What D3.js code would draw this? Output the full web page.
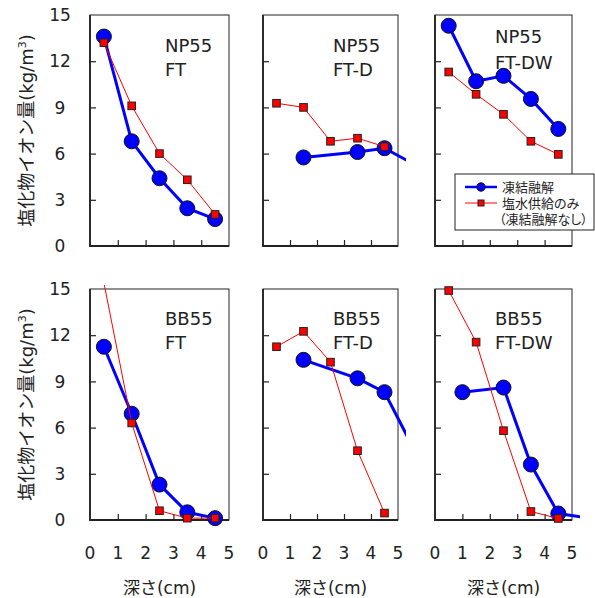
<!DOCTYPE html>
<html>
<head>
<meta charset="utf-8">
<style>
  body { margin: 0; background: #fff; }
  svg text { font-family: "DejaVu Sans", "Noto Sans CJK JP", sans-serif; fill: #222; }
  .axis .domain { display: none; }
  .axis line { stroke: #222; stroke-width: 1.2px; }
  .leg { font-feature-settings: "palt"; }
</style>
</head>
<body>
<svg id="chart" width="595" height="598"></svg>
<script src="https://d3js.org/d3.v7.min.js"></script>
<script>
// panel labels
var mixNames = ["NP55", "NP55", "NP55", "BB55", "BB55", "BB55"];
var caseNames = ["FT", "FT-D", "FT-DW", "FT", "FT-D", "FT-DW"];

// 凍結融解 (blue) series, depth in cm / chloride in kg/m3
var ftDepths = [
  [0.5, 1.5, 2.5, 3.5, 4.5],
  [1.5, 3.5, 4.5, 5.5],
  [0.5, 1.5, 2.5, 3.5, 4.5],
  [0.5, 1.5, 2.5, 3.5, 4.5],
  [1.5, 3.5, 4.5, 5.5],
  [1.0, 2.5, 3.5, 4.5, 5.5]
];
var ftValues = [
  [13.6, 6.8, 4.4, 2.45, 1.75],
  [5.75, 6.1, 6.35, 5.4],
  [14.3, 10.7, 11.05, 9.55, 7.6],
  [11.25, 6.9, 2.3, 0.5, 0.12],
  [10.4, 9.2, 8.3, 4.9],
  [8.3, 8.6, 3.6, 0.42, 0.15]
];

// 塩水供給のみ (red) series
var saltDepths = [
  [0.5, 1.5, 2.5, 3.5, 4.5],
  [0.5, 1.5, 2.5, 3.5, 4.5],
  [0.5, 1.5, 2.5, 3.5, 4.5],
  [0.5, 1.5, 2.5, 3.5, 4.5],
  [0.5, 1.5, 2.5, 3.5, 4.5],
  [0.5, 1.5, 2.5, 3.5, 4.5]
];
var saltValues = [
  [13.2, 9.1, 6.0, 4.3, 2.05],
  [9.27, 9.0, 6.8, 7.0, 6.45],
  [11.3, 9.85, 8.55, 6.8, 5.95],
  [15.4, 6.3, 0.6, 0.12, 0.12],
  [11.25, 12.25, 10.25, 4.5, 0.45],
  [14.9, 11.55, 5.8, 0.55, 0.1]
];

var xTicks = [0, 1, 2, 3, 4, 5];
var yTicks = [0, 3, 6, 9, 12, 15];

var colLeft = [90, 263, 435], colWidth = [139, 135, 137];
var rowTop = [15, 289], rowHeight = [231, 231];

var svg = d3.select("#chart");
var defs = svg.append("defs");

function pairs(ds, vs) { return ds.map(function(d, i){ return [d, vs[i]]; }); }

mixNames.forEach(function(mix, i) {
  var r = Math.floor(i / 3), c = i % 3;
  var left = colLeft[c], w = colWidth[c], top = rowTop[r], h = rowHeight[r];

  var x = d3.scaleLinear().domain([0, 5]).range([left, left + w]);
  var y = d3.scaleLinear().domain([0, 15]).range([top + h, top]);

  defs.append("clipPath").attr("id", "clip" + i)
    .append("rect")
      .attr("x", left).attr("y", top - 4)
      .attr("width", w + 8).attr("height", h + 4);

  var g = svg.append("g");

  // inward ticks
  g.append("g").attr("class", "axis")
      .attr("transform", "translate(0," + (top + h) + ")")
      .call(d3.axisBottom(x).tickValues([1, 2, 3, 4]).tickSizeInner(-6).tickSizeOuter(0).tickFormat(""));
  g.append("g").attr("class", "axis")
      .attr("transform", "translate(" + left + ",0)")
      .call(d3.axisLeft(y).tickValues([3, 6, 9, 12]).tickSizeInner(-6).tickSizeOuter(0).tickFormat(""));

  // frame
  g.append("rect")
      .attr("x", left).attr("y", top).attr("width", w).attr("height", h)
      .attr("fill", "none").attr("stroke", "#222").attr("stroke-width", 1);
  g.append("path")
      .attr("d", "M" + left + "," + top + "V" + (top + h) + "H" + (left + w))
      .attr("fill", "none").attr("stroke", "#222").attr("stroke-width", 1.8);

  if (c === 0) {
    g.selectAll(".ylab").data(yTicks).enter().append("text")
        .attr("x", 60).attr("y", function(d){ return y(d); })
        .attr("dy", "0.36em").attr("text-anchor", "middle")
        .style("font-size", "17px").text(function(d){ return d; });

    var yl = g.append("text")
        .attr("transform", "translate(33," + (top + h / 2) + ") rotate(-90)")
        .attr("text-anchor", "middle").style("font-size", "18px");
    yl.append("tspan").text("塩化物イオン量(kg/m");
    yl.append("tspan").attr("dy", -7).style("font-size", "11px").text("3");
    yl.append("tspan").attr("dy", 7).text(")");
  }
  if (r === 1) {
    g.selectAll(".xlab").data(xTicks).enter().append("text")
        .attr("x", function(d){ return x(d); }).attr("y", top + h + 33)
        .attr("dy", "0.36em").attr("text-anchor", "middle")
        .style("font-size", "17px").text(function(d){ return d; });
    g.append("text")
        .attr("x", left + w / 2).attr("y", 588).attr("dy", "0.36em")
        .attr("text-anchor", "middle").style("font-size", "17px").text("深さ(cm)");
  }

  // panel name
  var lx = c === 0 ? left + 75 : c === 1 ? left + 70 : left + 60;
  var ly = r === 0 ? (c === 2 ? 43 : 52) : 325;
  g.append("text").attr("x", lx).attr("y", ly).style("font-size", "18px").text(mix);
  g.append("text").attr("x", lx).attr("y", ly + (c === 2 && r === 0 ? 26 : 24)).style("font-size", "18px").text(caseNames[i]);

  var line = d3.line().x(function(d){ return x(d[0]); }).y(function(d){ return y(d[1]); });
  var inside = function(d){ return d[0] <= 5 && d[1] <= 15; };

  var ft = pairs(ftDepths[i], ftValues[i]);
  var salt = pairs(saltDepths[i], saltValues[i]);

  g.append("path").datum(ft)
      .attr("clip-path", "url(#clip" + i + ")")
      .attr("d", line).attr("fill", "none").attr("stroke", "#0000ff").attr("stroke-width", 3);
  g.selectAll(".ft").data(ft.filter(inside)).enter().append("circle")
      .attr("cx", function(d){ return x(d[0]); }).attr("cy", function(d){ return y(d[1]); })
      .attr("r", 7.5).attr("fill", "#0000ff").attr("stroke", "#111").attr("stroke-width", 1);

  g.append("path").datum(salt)
      .attr("clip-path", "url(#clip" + i + ")")
      .attr("d", line).attr("fill", "none").attr("stroke", "#ff0000").attr("stroke-width", 1);
  g.selectAll(".salt").data(salt.filter(inside)).enter().append("rect")
      .attr("x", function(d){ return x(d[0]) - 3.8; }).attr("y", function(d){ return y(d[1]) - 3.8; })
      .attr("width", 7.6).attr("height", 7.6)
      .attr("fill", "#ff0000").attr("stroke", "#222").attr("stroke-width", 1);
});

// legend
var lg = svg.append("g");
lg.append("rect").attr("x", 455).attr("y", 174).attr("width", 139).attr("height", 56)
    .attr("fill", "#fff").attr("stroke", "#222").attr("stroke-width", 1);
lg.append("line").attr("x1", 465).attr("x2", 497).attr("y1", 187).attr("y2", 187)
    .attr("stroke", "#0000ff").attr("stroke-width", 2.5);
lg.append("circle").attr("cx", 481).attr("cy", 187).attr("r", 4.2)
    .attr("fill", "#0000ff").attr("stroke", "#111");
lg.append("line").attr("x1", 465).attr("x2", 497).attr("y1", 203).attr("y2", 203)
    .attr("stroke", "#ff0000").attr("stroke-width", 1);
lg.append("rect").attr("x", 478).attr("y", 200).attr("width", 6).attr("height", 6)
    .attr("fill", "#ff0000").attr("stroke", "#222");
lg.append("text").attr("class", "leg").attr("x", 502).attr("y", 187).attr("dy", "0.36em").style("font-size", "13px").text("凍結融解");
lg.append("text").attr("class", "leg").attr("x", 502).attr("y", 203).attr("dy", "0.36em").style("font-size", "13px").text("塩水供給のみ");
lg.append("text").attr("class", "leg").attr("x", 499).attr("y", 219).attr("dy", "0.36em").style("font-size", "13px").text("（凍結融解なし）");
</script>
</body>
</html>
